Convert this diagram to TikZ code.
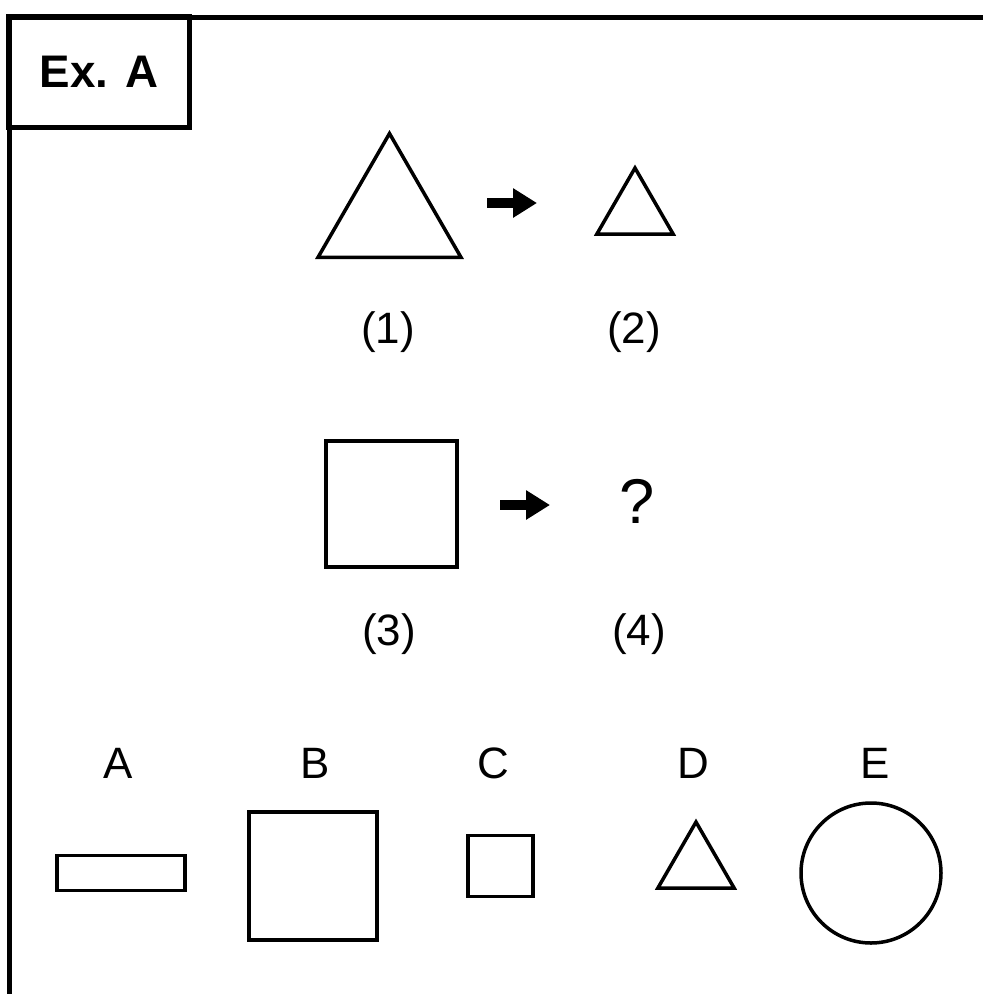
\documentclass[tikz,border=0pt]{standalone}
\usepackage{fontspec}
\setmainfont{Liberation Sans}
\usetikzlibrary{arrows.meta,shapes.geometric}

\begin{document}
\begin{tikzpicture}[x=0.2mm, y=-0.2mm, >={Triangle[length=4.8mm, width=5.6mm]},
    fig/.style={draw, line width=0.7mm, inner sep=0pt, outer sep=0pt},
    tri/.style={fig, regular polygon, regular polygon sides=3},
    lbl/.style={font=\fontsize{25}{28}\selectfont, inner sep=0pt},
    go/.style={->, line width=2mm}]
    \useasboundingbox (0,0) rectangle (983,994);
    % frame and title box
    \draw[line width=1mm] (983,17) -- (9,17) -- (9,994);
    \node[draw, line width=1mm, minimum width=36mm, minimum height=22.2mm, inner sep=0pt] (title) at (99,72) {};
    \node[font=\fontsize{26}{30}\selectfont\bfseries] (extxt) at (title) {Ex. A};
    % first pair
    \node[tri, minimum size=33mm] (t1) at (389.5,216) {};
    \node[tri, minimum size=17.6mm] (t2) at (635,212) {};
    \coordinate (a1s) at (487,203);
    \coordinate (a1e) at (537,203);
    \draw[go] (a1s) -- (a1e);
    \node[lbl] (n1) at (388,332) {(1)};
    \node[lbl] (n2) at (634,332) {(2)};
    % second pair
    \node[fig, minimum width=26.2mm, minimum height=25.2mm] (sq) at (391.5,504) {};
    \coordinate (a2s) at (500,505);
    \coordinate (a2e) at (550,505);
    \draw[go] (a2s) -- (a2e);
    \node[font=\fontsize{36}{40}\selectfont, inner sep=0pt] (qm) at (637,501) {?};
    \node[lbl] (n3) at (389,634) {(3)};
    \node[lbl] (n4) at (639,634) {(4)};
    % answer choices
    \node[lbl] (la) at (118,763) {A};
    \node[lbl] (lb) at (315,763) {B};
    \node[lbl] (lc) at (493,763) {C};
    \node[lbl] (ld) at (693,763) {D};
    \node[lbl] (le) at (875,763) {E};
    \node[fig, minimum width=25.6mm, minimum height=7mm] (ca) at (121,873) {};
    \node[fig, minimum width=25.6mm, minimum height=25.6mm] (cb) at (313,876) {};
    \node[fig, minimum width=13mm, minimum height=12.2mm] (cc) at (500.5,866) {};
    \node[tri, minimum size=17.6mm] (cd) at (696,866) {};
    \node[fig, circle, minimum size=28mm] (ce) at (871,873) {};
\end{tikzpicture}
\end{document}
